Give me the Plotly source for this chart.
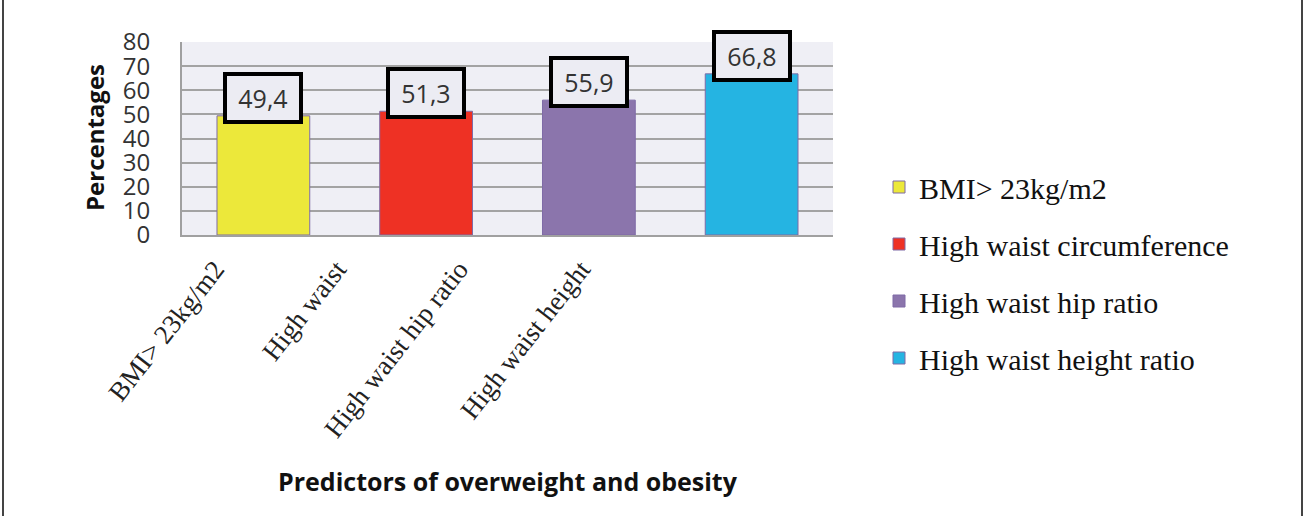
import plotly.graph_objects as go

# Data
categories = ["BMI> 23kg/m2", "High waist", "High waist hip ratio", "High waist height"]
legend_names = ["BMI> 23kg/m2", "High waist circumference", "High waist hip ratio", "High waist height ratio"]
values = [49.4, 51.3, 55.9, 66.8]
value_labels = ["49,4", "51,3", "55,9", "66,8"]
colors = ["#ECE83A", "#EE3124", "#8B75AC", "#25B4E2"]
y_ticks = [0, 10, 20, 30, 40, 50, 60, 70, 80]

W, H = 1304, 516
ML = 100               # left margin of the paper area
L, R, T, B = 182, 833, 42, 235   # plot area in pixels

fig = go.Figure()
for i, (cat, name, v, c) in enumerate(zip(categories, legend_names, values, colors)):
    fig.add_trace(go.Bar(
        x=[cat], y=[v], name=name, legendgroup=f"g{i}",
        marker=dict(color=c, line=dict(color="#7F6BA6", width=1)),
        hoverinfo="skip",
    ))

# invisible trace carrying the rotated category labels on a second x axis
fig.add_trace(go.Scatter(x=[0, 3], y=[0, 0], xaxis="x2", yaxis="y2",
                         mode="markers", marker=dict(opacity=0), showlegend=False,
                         hoverinfo="skip"))

annotations = []
for cat, v, lab in zip(categories, values, value_labels):
    annotations.append(dict(
        x=cat, y=v, xref="x", yref="y", text=lab, showarrow=False,
        yanchor="bottom", yshift=-8,
        font=dict(family="Open Sans", size=25, color="#333333"),
        bgcolor="#ECECF3", bordercolor="#000000", borderwidth=4, borderpad=1,
        width=70, height=42,
    ))

pw = R - ML
ph = B - T
def px_x(p):
    return (p - ML) / pw
def px_y(p):
    return (B - p) / ph

annotations.append(dict(
    x=px_x(94), y=px_y(138), xref="paper", yref="paper", text="Percentages",
    textangle=-90, showarrow=False, xanchor="center", yanchor="middle",
    font=dict(family="Open Sans", size=24, color="#111111", weight="bold"),
))
annotations.append(dict(
    x=px_x(508), y=px_y(481), xref="paper", yref="paper",
    text="Predictors of overweight and obesity",
    showarrow=False, xanchor="center", yanchor="middle",
    font=dict(family="Open Sans", size=25, color="#111111", weight="bold"),
))

shapes = [
    # plot-area background
    dict(type="rect", xref="paper", yref="paper", x0=px_x(L), x1=1, y0=0, y1=1,
         fillcolor="#EFEFF5", line=dict(width=0), layer="below"),
    dict(type="line", xref="paper", yref="paper", x0=px_x(3), x1=px_x(3), y0=px_y(0), y1=px_y(H),
         line=dict(color="#444444", width=2)),
    dict(type="line", xref="paper", yref="paper", x0=px_x(1302), x1=px_x(1302), y0=px_y(0), y1=px_y(H),
         line=dict(color="#444444", width=2)),
]

fig.update_layout(
    width=W, height=H,
    margin=dict(l=ML, r=W - R, t=T, b=H - B, pad=0),
    paper_bgcolor="white", plot_bgcolor="rgba(0,0,0,0)",
    barmode="overlay", bargap=0.43,
    showlegend=True,
    legend=dict(
        x=px_x(879), y=px_y(161), xanchor="left", yanchor="top",
        font=dict(family="Liberation Serif", size=30, color="#111111"),
        traceorder="grouped", tracegroupgap=15, bgcolor="rgba(0,0,0,0)",
        maxheight=400,
    ),
    xaxis=dict(
        type="category", categoryarray=categories, showticklabels=False,
        showgrid=False, showline=True, linecolor="#A0A0A0", linewidth=2,
        ticks="", domain=[px_x(L), 1],
    ),
    xaxis2=dict(
        anchor="y2", domain=[px_x(154), px_x(642)], range=[-0.5, 3.5],
        tickvals=[0, 1, 2, 3], ticktext=categories, tickangle=-52,
        showgrid=False, showline=False, zeroline=False, ticks="",
        ticklabelstandoff=12,
        tickfont=dict(family="Liberation Serif", size=27, color="#222222"),
    ),
    yaxis=dict(
        range=[0, 80], tickvals=y_ticks, showgrid=True, gridcolor="#A3A3A3", gridwidth=2,
        showline=True, linecolor="#A0A0A0", linewidth=2, zeroline=False, ticks="",
        tickfont=dict(family="Open Sans", size=24, color="#333333"),
        ticklabelstandoff=25,
    ),
    yaxis2=dict(
        overlaying="y", range=[0, 80], showgrid=False, showticklabels=False,
        showline=False, zeroline=False, ticks="",
    ),
    annotations=annotations,
    shapes=shapes,
)

fig.write_html("out.html")
